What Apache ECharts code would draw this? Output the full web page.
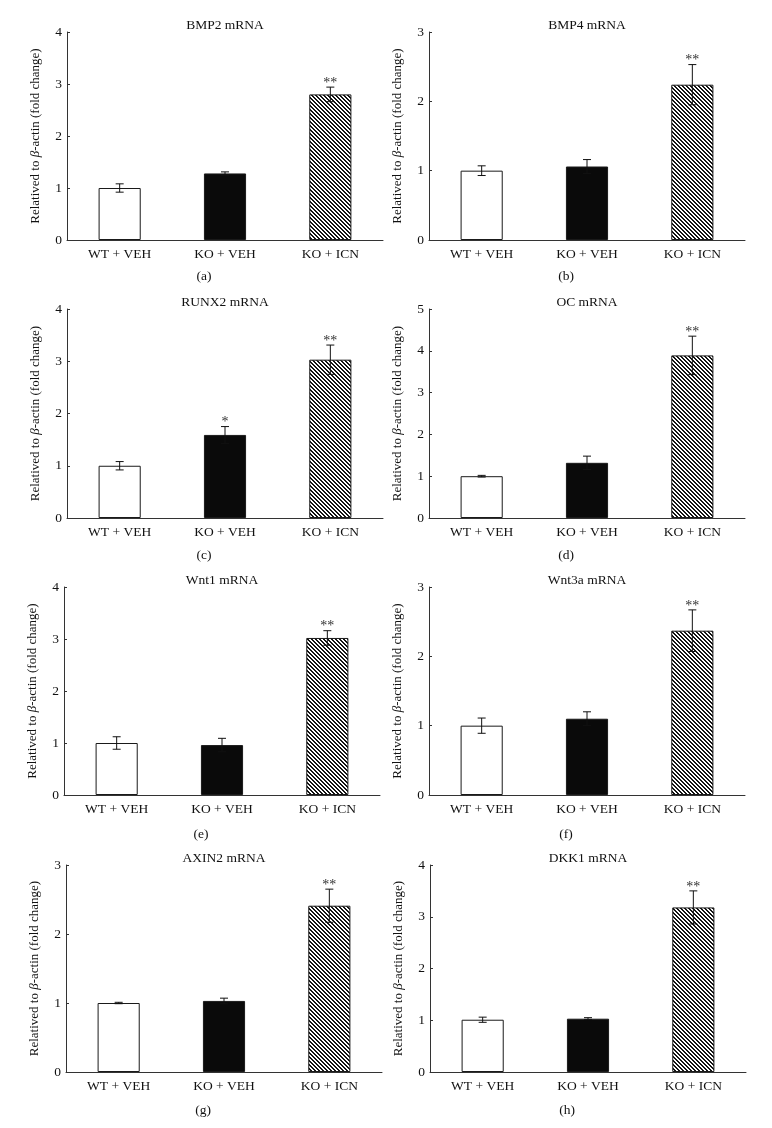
<!DOCTYPE html>
<html>
<head>
<meta charset="utf-8">
<script src="https://cdn.jsdelivr.net/npm/echarts@6/dist/echarts.min.js"></script>
<style>
html,body{margin:0;padding:0;background:#fff;}
#chart{width:772px;height:1128px;}
</style>
</head>
<body>
<div id="chart"></div>
<script>
// ---- data ----
const categories = ['WT + VEH', 'KO + VEH', 'KO + ICN'];
const panelTitles = ['BMP2 mRNA', 'BMP4 mRNA', 'RUNX2 mRNA', 'OC mRNA', 'Wnt1 mRNA', 'Wnt3a mRNA', 'AXIN2 mRNA', 'DKK1 mRNA'];
const panelLetters = ['(a)', '(b)', '(c)', '(d)', '(e)', '(f)', '(g)', '(h)'];
const yMaxValues = [4, 3, 4, 5, 4, 3, 3, 4];

const bmp2Mean = [1.00, 1.28, 2.80];
const bmp2Err = [0.08, 0.03, 0.14];
const bmp2Stars = ['', '', '**'];

const bmp4Mean = [1.00, 1.06, 2.24];
const bmp4Err = [0.07, 0.10, 0.29];
const bmp4Stars = ['', '', '**'];

const runx2Mean = [1.00, 1.59, 3.03];
const runx2Err = [0.08, 0.16, 0.28];
const runx2Stars = ['', '*', '**'];

const ocMean = [1.00, 1.32, 3.89];
const ocErr = [0.02, 0.16, 0.46];
const ocStars = ['', '', '**'];

const wnt1Mean = [1.00, 0.96, 3.02];
const wnt1Err = [0.12, 0.13, 0.14];
const wnt1Stars = ['', '', '**'];

const wnt3aMean = [1.00, 1.10, 2.37];
const wnt3aErr = [0.11, 0.10, 0.30];
const wnt3aStars = ['', '', '**'];

const axin2Mean = [1.00, 1.03, 2.41];
const axin2Err = [0.01, 0.04, 0.24];
const axin2Stars = ['', '', '**'];

const dkk1Mean = [1.01, 1.03, 3.18];
const dkk1Err = [0.05, 0.02, 0.32];
const dkk1Stars = ['', '', '**'];

const means = [bmp2Mean, bmp4Mean, runx2Mean, ocMean, wnt1Mean, wnt3aMean, axin2Mean, dkk1Mean];
const errs = [bmp2Err, bmp4Err, runx2Err, ocErr, wnt1Err, wnt3aErr, axin2Err, dkk1Err];
const starsAll = [bmp2Stars, bmp4Stars, runx2Stars, ocStars, wnt1Stars, wnt3aStars, axin2Stars, dkk1Stars];

// ---- layout (positions only) ----
const layout = [
  {left: 67, top: 32, h: 208, sub: 276}, {left: 429, top: 32, h: 208, sub: 276},
  {left: 67, top: 309, h: 209, sub: 555}, {left: 429, top: 309, h: 209, sub: 555},
  {left: 64, top: 587, h: 208, sub: 834}, {left: 429, top: 587, h: 208, sub: 834},
  {left: 66, top: 865, h: 207, sub: 1110}, {left: 430, top: 865, h: 207, sub: 1110}
];
const W = 316;
const FONT = "'Liberation Serif', 'DejaVu Serif', serif";
const TXT = '#111';

function hatchCanvas() {
  const c = document.createElement('canvas');
  c.width = 4; c.height = 4;
  const ctx = c.getContext('2d');
  const img = ctx.createImageData(4, 4);
  for (let y = 0; y < 4; y++) {
    for (let x = 0; x < 4; x++) {
      const on = (((x - y) % 4) + 4) % 4 < 2;
      const i = (y * 4 + x) * 4;
      const v = on ? 20 : 255;
      img.data[i] = v; img.data[i + 1] = v; img.data[i + 2] = v; img.data[i + 3] = 255;
    }
  }
  ctx.putImageData(img, 0, 0);
  return c;
}
const hatch = hatchCanvas();
const barColors = ['#ffffff', '#0a0a0a', {image: hatch, repeat: 'repeat'}];

const grids = [], xAxes = [], yAxes = [], series = [], titles = [];
layout.forEach((p, i) => {
  grids.push({left: p.left, top: p.top, width: W, height: p.h, containLabel: false});
  xAxes.push({
    type: 'category', gridIndex: i, data: categories,
    axisLine: {lineStyle: {color: '#333', width: 1}},
    axisTick: {inside: true, length: 5, lineStyle: {color: '#333'}},
    axisLabel: {color: TXT, fontFamily: FONT, fontSize: 13.5, margin: 7}
  });
  yAxes.push({
    type: 'value', gridIndex: i, min: 0, max: yMaxValues[i], interval: 1,
    splitLine: {show: false},
    axisLine: {show: true, lineStyle: {color: '#333', width: 1}},
    axisTick: {show: true, inside: true, length: 3, lineStyle: {color: '#333'}},
    axisLabel: {color: TXT, fontFamily: FONT, fontSize: 13.5, margin: 5},
    name: '{n|Relatived to }{i|β}{n|-actin (fold change)}',
    nameLocation: 'middle', nameGap: 25,
    nameTextStyle: {
      color: TXT, fontFamily: FONT, fontSize: 13,
      rich: {
        n: {color: TXT, fontFamily: FONT, fontSize: 13},
        i: {color: TXT, fontFamily: FONT, fontSize: 13, fontStyle: 'italic'}
      }
    }
  });
  series.push({
    type: 'bar', xAxisIndex: i, yAxisIndex: i, barWidth: '40%',
    data: means[i].map((v, k) => ({
      value: v,
      itemStyle: {color: barColors[k], borderColor: '#1a1a1a', borderWidth: 1}
    })),
    silent: true, animation: false
  });
  const errData = means[i].map((v, k) => [k, v, errs[i][k]]);
  const st = starsAll[i];
  series.push({
    type: 'custom', xAxisIndex: i, yAxisIndex: i, z: 5, silent: true, animation: false,
    data: errData,
    renderItem: function (params, api) {
      const x = api.value(0), m = api.value(1), e = api.value(2);
      const top = api.coord([x, m + e]);
      const bot = api.coord([x, m - e]);
      const hw = 4;
      const ls = {stroke: '#111', lineWidth: 1};
      const children = [
        {type: 'line', shape: {x1: top[0], y1: top[1], x2: bot[0], y2: bot[1]}, style: ls},
        {type: 'line', shape: {x1: top[0] - hw, y1: top[1], x2: top[0] + hw, y2: top[1]}, style: ls},
        {type: 'line', shape: {x1: bot[0] - hw, y1: bot[1], x2: bot[0] + hw, y2: bot[1]}, style: ls}
      ];
      const s = st[params.dataIndex];
      if (s) {
        children.push({
          type: 'text', x: top[0], y: top[1] + 3,
          style: {text: s, align: 'center', verticalAlign: 'bottom', fontFamily: FONT, fontSize: 14, fill: '#333'}
        });
      }
      return {type: 'group', children: children};
    }
  });
  titles.push({
    text: panelTitles[i], left: p.left + W / 2, top: p.top - 14, textAlign: 'center', padding: 0,
    textStyle: {color: TXT, fontFamily: FONT, fontSize: 13.5, fontWeight: 'normal'}
  });
  titles.push({
    text: panelLetters[i], left: p.left + W / 2 - 21, top: p.sub - 7, textAlign: 'center', padding: 0,
    textStyle: {color: TXT, fontFamily: FONT, fontSize: 13.5, fontWeight: 'normal'}
  });
});

const chart = echarts.init(document.getElementById('chart'), null, {renderer: 'canvas'});
chart.setOption({
  backgroundColor: '#ffffff',
  animation: false,
  title: titles,
  grid: grids,
  xAxis: xAxes,
  yAxis: yAxes,
  series: series
});
</script>
</body>
</html>
